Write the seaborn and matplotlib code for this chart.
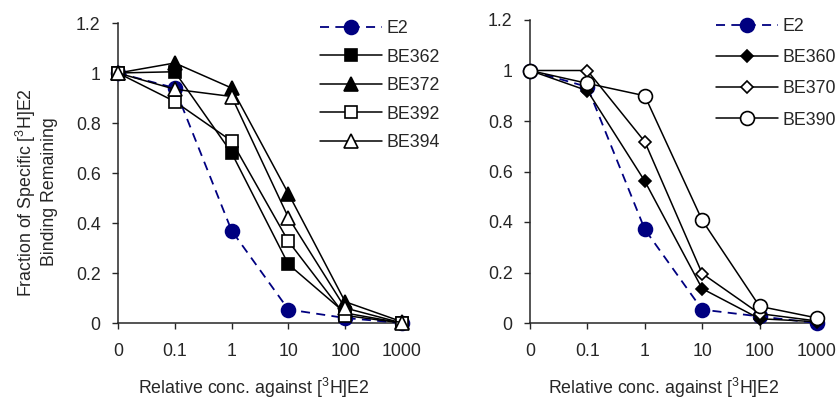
import matplotlib
matplotlib.use("Agg")
import matplotlib.pyplot as plt
import seaborn as sns
import numpy as np

# --- DATA ---
conc_labels = ["0", "0.1", "1", "10", "100", "1000"]

e2 = [1.0, 0.94, 0.37, 0.054, 0.02, 0.0]

# left panel
be362 = [1.0, 1.005, 0.681, 0.235, 0.04, 0.0]
be372 = [1.0, 1.04, 0.94, 0.518, 0.085, 0.005]
be392 = [1.0, 0.886, 0.728, 0.327, 0.03, 0.0]
be394 = [1.0, 0.935, 0.906, 0.422, 0.06, 0.0]

# right panel
e2_r = [1.0, 0.935, 0.371, 0.053, 0.026, 0.0]
be360 = [1.0, 0.92, 0.562, 0.136, 0.017, 0.005]
be370 = [1.0, 1.0, 0.718, 0.196, 0.037, 0.008]
be390 = [1.0, 0.949, 0.9, 0.407, 0.066, 0.02]

# --- STYLE ---
sns.set_style("ticks")
FONT = "Liberation Sans"
plt.rcParams["font.family"] = [FONT, "DejaVu Sans"]
plt.rcParams["mathtext.fontset"] = "custom"
plt.rcParams["mathtext.rm"] = FONT
plt.rcParams["mathtext.it"] = FONT
plt.rcParams["font.size"] = 12.8

NAVY = "#000080"
x = np.arange(len(conc_labels))

fig = plt.figure(figsize=(8.39, 4.0), dpi=100)
ax_l = fig.add_axes([0.1406, 0.1925, 0.3385, 0.75])
ax_r = fig.add_axes([0.6317, 0.1925, 0.342, 0.7575])


def draw_series(ax, y, label, marker, filled, ms, color="black", dashed=False):
    sns.lineplot(
        x=x, y=y, ax=ax, label=label,
        color=color,
        linestyle=(0, (5, 3.5)) if dashed else "-",
        linewidth=1.3 if dashed else 1.1,
        marker=marker, markersize=ms,
        markerfacecolor=color if filled else "white",
        markeredgecolor=color, markeredgewidth=1.2,
        clip_on=False, zorder=3,
    )


draw_series(ax_l, e2, "E2", "o", True, 10, color=NAVY, dashed=True)
draw_series(ax_l, be362, "BE362", "s", True, 9)
draw_series(ax_l, be372, "BE372", "^", True, 9.5)
draw_series(ax_l, be392, "BE392", "s", False, 9)
draw_series(ax_l, be394, "BE394", "^", False, 9.5)

draw_series(ax_r, e2_r, "E2", "o", True, 10, color=NAVY, dashed=True)
draw_series(ax_r, be360, "BE360", "D", True, 6.5)
draw_series(ax_r, be370, "BE370", "D", False, 6.5)
draw_series(ax_r, be390, "BE390", "o", False, 10)

xlabel = "Relative conc. against [$^3$H]E2"

for ax in (ax_l, ax_r):
    ax.set_xlim(0, 5)
    ax.set_ylim(0, 1.2)
    ax.set_xticks(x)
    ax.set_xticklabels(conc_labels)
    ax.set_yticks([0, 0.2, 0.4, 0.6, 0.8, 1.0, 1.2])
    ax.set_yticklabels(["0", "0.2", "0.4", "0.6", "0.8", "1", "1.2"])
    ax.tick_params(axis="y", direction="out", length=4, width=1, pad=8.5)
    ax.tick_params(axis="x", direction="out", length=4, width=1, pad=10.5)
    for side in ("top", "right"):
        ax.spines[side].set_visible(False)
    for side in ("left", "bottom"):
        ax.spines[side].set_linewidth(1.1)
    ax.set_xlabel(xlabel)
    ax.set_ylabel("")

ax_l.xaxis.set_label_coords(0.479, -0.175)
ax_r.xaxis.set_label_coords(0.467, -0.175)

ax_l.set_ylabel("Fraction of Specific [$^3$H]E2\nBinding Remaining", linespacing=1.25)
ax_l.yaxis.set_label_coords(-0.211, 0.4365)

leg_kw = dict(
    loc="upper left", bbox_transform=fig.transFigure, frameon=False,
    numpoints=1, handlelength=3.49, handletextpad=0.28,
    borderpad=0, borderaxespad=0,
)
ax_l.legend(bbox_to_anchor=(0.381, 0.95), labelspacing=0.65, **leg_kw)
ax_r.legend(bbox_to_anchor=(0.853, 0.954), labelspacing=0.79, **leg_kw)

fig.savefig("out.png", dpi=100)
